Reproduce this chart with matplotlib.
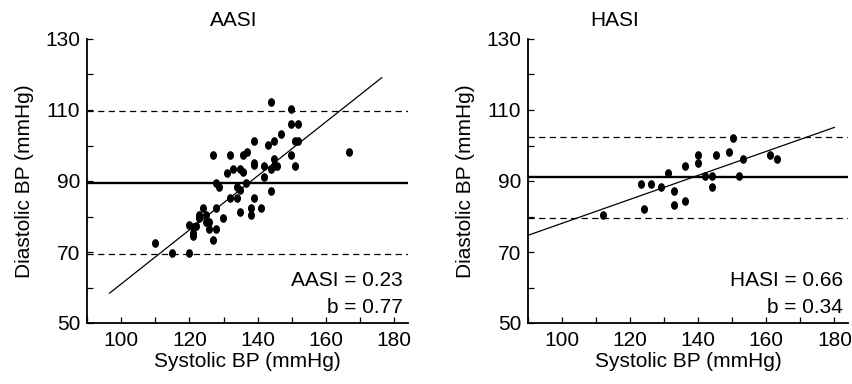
import matplotlib
matplotlib.use("Agg")
import matplotlib.pyplot as plt
import numpy as np
from matplotlib.path import Path
from matplotlib.ticker import MultipleLocator

plt.rcParams['font.family'] = ['Liberation Sans', 'DejaVu Sans']

# ---- data ----
aasi_sys = [144.0, 149.8, 149.8, 151.8, 146.8, 138.8, 142.9, 144.8, 151.0, 151.8,
            126.9, 131.9, 135.7, 136.8, 149.8, 144.8, 138.8, 138.8, 141.8, 144.8,
            145.7, 150.8, 132.8, 134.9, 135.7, 130.9, 143.8, 141.8, 127.9, 128.8,
            133.8, 134.8, 136.7, 143.8, 131.9, 133.8, 138.8, 127.8, 123.9, 134.8,
            137.9, 137.9, 140.9, 122.9, 122.9, 124.8, 124.8, 125.8, 129.7, 119.9,
            120.9, 121.8, 120.9, 120.9, 125.8, 127.8, 126.8, 109.9, 114.9, 119.9,
            166.8]
aasi_dia = [112.2, 110.3, 106.1, 106.1, 103.2, 101.3, 100.1, 101.3, 101.3, 101.3,
            97.2, 97.2, 97.2, 98.3, 97.2, 96.3, 95.0, 94.4, 94.1, 94.2,
            94.3, 94.2, 93.3, 93.3, 92.5, 92.2, 93.3, 91.2, 89.5, 88.4,
            88.4, 87.4, 89.4, 87.3, 85.3, 85.3, 85.3, 82.4, 82.4, 81.4,
            82.3, 80.4, 82.3, 80.4, 79.5, 80.4, 78.5, 78.4, 79.5, 77.6,
            77.1, 77.3, 75.4, 74.5, 76.4, 76.4, 73.4, 72.6, 69.6, 69.6,
            98.2]
hasi_sys = [112.1, 123.1, 126.0, 124.1, 129.1, 131.1, 132.9, 132.9, 136.0, 136.0,
            140.0, 140.0, 141.9, 144.1, 144.1, 145.1, 149.0, 150.1, 153.1, 152.0,
            161.0, 163.1]
hasi_dia = [80.3, 89.2, 89.2, 82.2, 88.2, 92.3, 87.3, 83.3, 84.3, 94.3,
            97.2, 95.2, 91.3, 91.3, 88.2, 97.2, 98.3, 102.2, 96.3, 91.3,
            97.2, 96.3]

panels = ["AASI", "HASI"]
means = [89.3, 91.0]
upper = [109.7, 102.3]
lower = [69.3, 79.7]
# regression lines: (x_start, x_end) and (y_start, y_end)
reg_x = [[96.6, 176.3], [90.0, 180.0]]
reg_y = [[58.4, 119.1], [74.7, 105.1]]
index_labels = ["AASI = 0.23", "HASI = 0.66"]
slope_labels = ["b = 0.77", "b = 0.34"]
x_ticks = [100, 120, 140, 160, 180]
y_ticks = [50, 70, 90, 110, 130]

xs = [aasi_sys, hasi_sys]
ys = [aasi_dia, hasi_dia]

W, H = 853, 384
fig = plt.figure(figsize=(W / 100, H / 100), dpi=100)

uc = Path.unit_circle()
ell = Path(uc.vertices * np.array([0.78, 1.0]), uc.codes)

axes_px = [(87, 408), (528, 848)]
title_px = [234, 615]
fs = 15
for i in range(2):
    l, r = axes_px[i]
    ax = fig.add_axes([l / W, 1 - 323 / H, (r - l) / W, (323 - 39) / H])
    ax.set_xlim(90, 184)
    ax.set_ylim(50, 130)
    ax.axhline(means[i], color='black', lw=1.7)
    ax.axhline(upper[i], color='black', lw=0.9, ls=(0, (5, 3.5)))
    ax.axhline(lower[i], color='black', lw=0.9, ls=(0, (5, 3.5)))
    ax.plot(reg_x[i], reg_y[i], color='black', lw=0.9)
    ax.plot(xs[i], ys[i], ls='none', marker=ell, ms=5.2, color='black')
    for s in ['top', 'right']:
        ax.spines[s].set_visible(False)
    for s in ['left', 'bottom']:
        ax.spines[s].set_linewidth(1.3)
    ax.set_xticks(x_ticks)
    ax.set_yticks(y_ticks)
    ax.xaxis.set_minor_locator(MultipleLocator(10))
    ax.yaxis.set_minor_locator(MultipleLocator(10))
    ax.tick_params(which='both', direction='in', length=4, width=0.9, labelsize=fs)
    ax.tick_params(axis='x', pad=6)
    ax.tick_params(axis='y', pad=5)
    ax.set_xlabel("Systolic BP (mmHg)", fontsize=fs, labelpad=1)
    ax.set_ylabel("Diastolic BP (mmHg)", fontsize=fs, labelpad=8)
    ax.text(0.985, 0.15, index_labels[i], transform=ax.transAxes, ha='right',
            va='center', fontsize=fs)
    ax.text(0.985, 0.055, slope_labels[i], transform=ax.transAxes, ha='right',
            va='center', fontsize=fs)
    fig.text(title_px[i] / W, 1 - 20 / H, panels[i], ha='center', va='center',
             fontsize=fs)

fig.savefig("out.png", dpi=100)
